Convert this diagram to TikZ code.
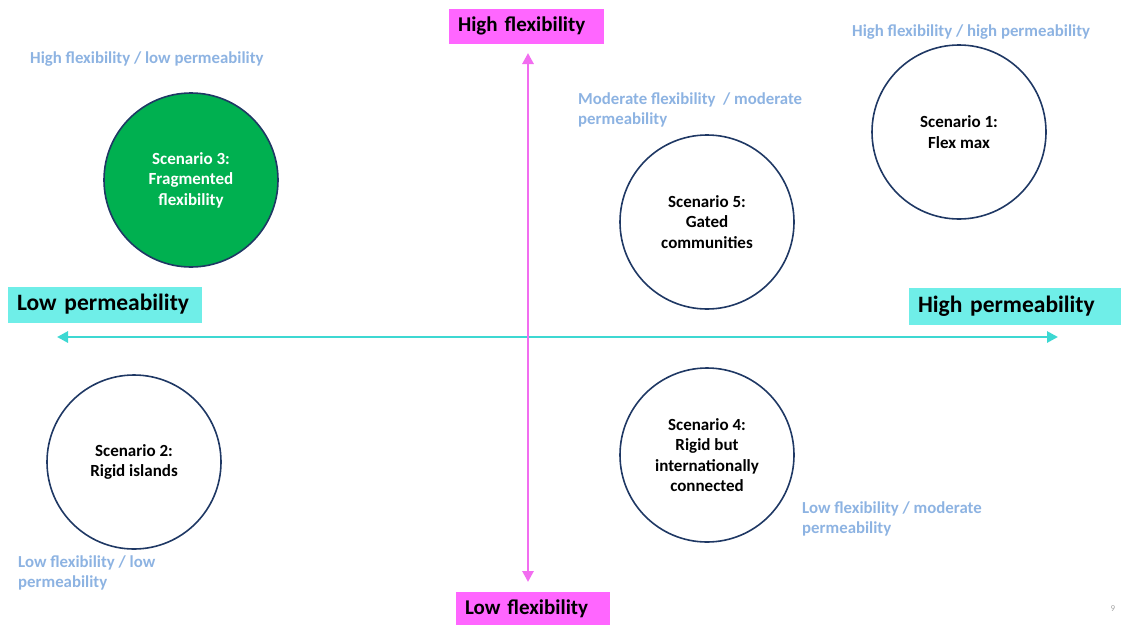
\documentclass[tikz,border=0pt]{standalone}
\usepackage{fontspec}
\setmainfont{Carlito}
\usetikzlibrary{arrows.meta}
\definecolor{magbox}{HTML}{FF66FF}
\definecolor{magaxis}{HTML}{F26DF0}
\definecolor{cyanbox}{HTML}{6FEEE8}
\definecolor{cyanaxis}{HTML}{3DD8D2}
\definecolor{ringblue}{HTML}{1F3864}
\definecolor{scgreen}{HTML}{00B050}
\definecolor{notegray}{HTML}{8DB3E2}
\definecolor{pagegray}{HTML}{A6A6A6}
\tikzset{
  axisbox/.style={inner xsep=9pt, inner ysep=0pt, align=left,
    font=\fontsize{21}{24}\selectfont\bfseries, text=black},
  permbox/.style={axisbox, fill=cyanbox, font=\fontsize{23.5}{26}\selectfont\bfseries},
  scenario/.style={circle, draw=ringblue, line width=1.6pt, minimum size=174pt,
    inner sep=0pt, align=center, font=\fontsize{17}{20.5}\selectfont\bfseries},
  note/.style={anchor=north west, inner sep=0pt, align=left, text=notegray,
    font=\fontsize{16.8}{20}\selectfont\bfseries},
  axisarrow/.style={line width=2.8pt, {Triangle[length=11pt,width=11pt]}-{Triangle[length=11pt,width=11pt]}}
}
\begin{document}
\begin{tikzpicture}[x=1pt,y=-1pt]
\useasboundingbox (0,0) rectangle (1121,624);

% axes
\coordinate (xl) at (57,337);
\coordinate (xr) at (1058,337);
\coordinate (yt) at (528,53);
\coordinate (yb) at (528,582);
\draw[axisarrow, draw=cyanaxis, fill=cyanaxis] (xl) -- (xr);
\draw[axisarrow, draw=magaxis, fill=magaxis] (yt) -- (yb);

% axis labels
\node[axisbox, fill=magbox, text width=137pt, minimum height=35pt] (hf) at (526.5,26) {High flexibility};
\node[axisbox, fill=magbox, text width=136pt, minimum height=34pt] (lf) at (533,608.5) {Low flexibility};
\node[permbox, text width=176pt, minimum height=36pt] (lp) at (105,304.5) {Low permeability};
\node[permbox, text width=194pt, minimum height=37pt] (hp) at (1015,306) {High permeability};

% scenarios
\node[scenario, fill=scgreen, text=white] (s3) at (191,180) {Scenario 3:\\Fragmented\\flexibility};
\node[scenario] (s1) at (959,132) {Scenario 1:\\Flex max};
\node[scenario] (s5) at (707,222) {Scenario 5:\\Gated\\communities};
\node[scenario] (s2) at (134,462) {Scenario 2:\\Rigid islands};
\node[scenario] (s4) at (707,455) {Scenario 4:\\Rigid but\\internationally\\connected};

% quadrant notes
\node[note] (n1) at (30,52) {High flexibility / low permeability};
\node[note] (n2) at (852,25) {High flexibility / high permeability};
\node[note] (n3) at (578,93) {Moderate flexibility~~/ moderate\\permeability};
\node[note] (n4) at (802,502) {Low flexibility / moderate\\permeability};
\node[note] (n5) at (18,556) {Low flexibility / low\\permeability};

% page number
\node[inner sep=0pt, text=pagegray, font=\fontsize{9}{10}\selectfont] (pg) at (1113,609) {9};
\end{tikzpicture}
\end{document}
